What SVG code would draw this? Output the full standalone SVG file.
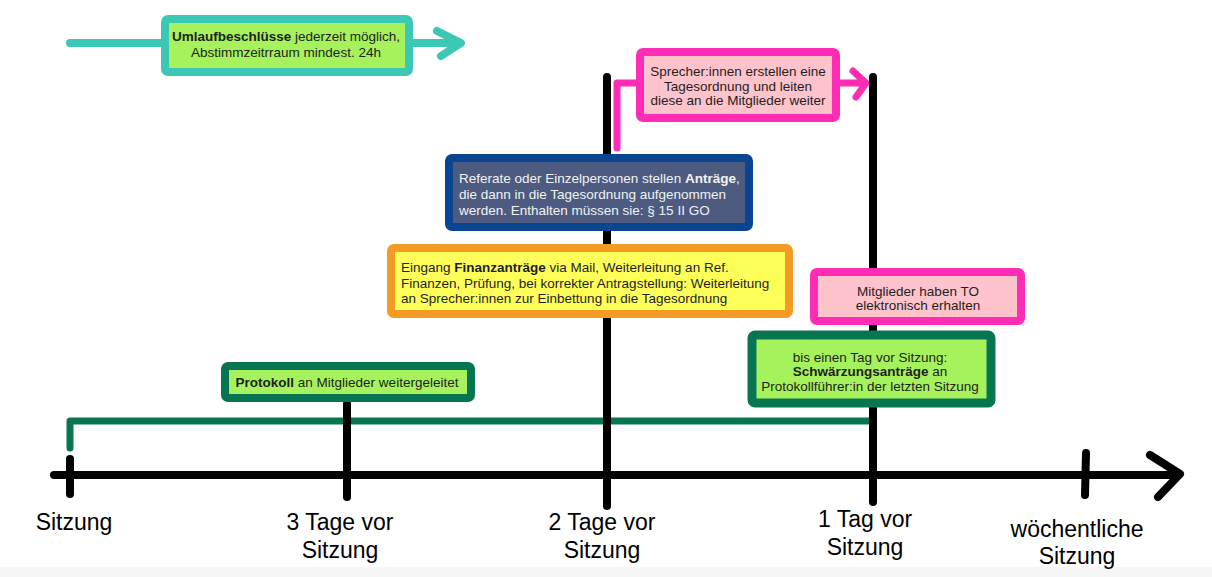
<svg xmlns="http://www.w3.org/2000/svg" width="1212" height="577" viewBox="0 0 1212 577">
<style>
.t{font-family:"Liberation Sans",Arial,sans-serif;font-size:13.5px;fill:#1e1e1e}
.w{fill:#f2f2f2}
.lab{font-family:"Liberation Sans",Arial,sans-serif;font-size:23px;fill:#000;text-anchor:middle}
.c{text-anchor:middle}
.b{font-weight:bold}
.ln{fill:none;stroke-linecap:round;stroke-linejoin:round}
.k{stroke:#000;stroke-width:8}
</style>
<rect x="0" y="0" width="1212" height="577" fill="#fff"/>
<rect x="0" y="567" width="1212" height="10" fill="#f6f6f6"/>
<g id="connectors">
  <path class="ln" d="M70 43 H455 M437 31 L461 43 L441 56" stroke="#3dc8b6" stroke-width="8"/>
  <path class="ln" d="M617 148 V83 H862 M853 71 L866 83 L856 97" stroke="#ff2db5" stroke-width="7"/>
  <path class="ln" d="M70 448 V421 H870" stroke="#087552" stroke-width="7"/>
  <path class="ln k" d="M54 475 H1178 M1150 455 L1180 474 L1158 497"/>
  <path class="ln k" d="M70 459 V494"/>
  <path class="ln k" d="M347 404 V497"/>
  <path class="ln k" d="M607 77 V506"/>
  <path class="ln k" d="M873 77 V502"/>
  <path class="ln k" d="M1086 453 L1085 495"/>
</g>
<g id="umlauf">
  <rect x="165" y="19" width="244" height="53" rx="3" fill="#a6f25c" stroke="#3dc8b6" stroke-width="8"/>
  <text class="t c" x="286" y="41"><tspan class="b">Umlaufbeschlüsse</tspan> jederzeit möglich,</text>
  <text class="t c" x="286" y="57">Abstimmzeitrraum mindest. 24h</text>
</g>
<g id="sprecher">
  <rect x="640" y="52" width="196" height="66" rx="3" fill="#ffc3cb" stroke="#ff2db5" stroke-width="8"/>
  <text class="t c" x="738" y="76">Sprecher:innen erstellen eine</text>
  <text class="t c" x="738" y="90.5">Tagesordnung und leiten</text>
  <text class="t c" x="738" y="105">diese an die Mitglieder weiter</text>
</g>
<g id="antraege">
  <rect x="449" y="158" width="300" height="69" rx="3" fill="#4d5b80" stroke="#0a4592" stroke-width="8"/>
  <text class="t w" x="459" y="183">Referate oder Einzelpersonen stellen <tspan class="b">Anträge</tspan>,</text>
  <text class="t w" x="459" y="199">die dann in die Tagesordnung aufgenommen</text>
  <text class="t w" x="459" y="215">werden. Enthalten müssen sie: § 15 II GO</text>
</g>
<g id="finanz">
  <rect x="391" y="248" width="398" height="66" rx="3" fill="#ffff5a" stroke="#f59a25" stroke-width="8"/>
  <text class="t" x="401" y="272">Eingang <tspan class="b">Finanzanträge</tspan> via Mail, Weiterleitung an Ref.</text>
  <text class="t" x="401" y="288">Finanzen, Prüfung, bei korrekter Antragstellung: Weiterleitung</text>
  <text class="t" x="401" y="303">an Sprecher:innen zur Einbettung in die Tagesordnung</text>
</g>
<g id="to-erhalten">
  <rect x="814" y="272" width="207" height="49" rx="3" fill="#ffc3cb" stroke="#ff2db5" stroke-width="8"/>
  <text class="t c" x="918" y="296">Mitglieder haben TO</text>
  <text class="t c" x="918" y="310">elektronisch erhalten</text>
</g>
<g id="schwaerzung">
  <rect x="752" y="335" width="239" height="68" rx="3" fill="#a6f25c" stroke="#087552" stroke-width="9"/>
  <text class="t c" x="870" y="362">bis einen Tag vor Sitzung:</text>
  <text class="t c" x="870" y="376"><tspan class="b">Schwärzungsanträge</tspan> an</text>
  <text class="t c" x="870" y="391">Protokollführer:in der letzten Sitzung</text>
</g>
<g id="protokoll">
  <rect x="225" y="366" width="246" height="32" rx="3" fill="#a6f25c" stroke="#087552" stroke-width="8"/>
  <text class="t c" x="347" y="387"><tspan class="b">Protokoll</tspan> an Mitglieder weitergeleitet</text>
</g>
<g id="labels">
  <text class="lab" x="74" y="530">Sitzung</text>
  <text class="lab" x="340" y="530">3 Tage vor</text>
  <text class="lab" x="340" y="558">Sitzung</text>
  <text class="lab" x="602" y="530">2 Tage vor</text>
  <text class="lab" x="602" y="558">Sitzung</text>
  <text class="lab" x="865" y="527">1 Tag vor</text>
  <text class="lab" x="865" y="555">Sitzung</text>
  <text class="lab" x="1077" y="537">wöchentliche</text>
  <text class="lab" x="1077" y="564">Sitzung</text>
</g>
</svg>
